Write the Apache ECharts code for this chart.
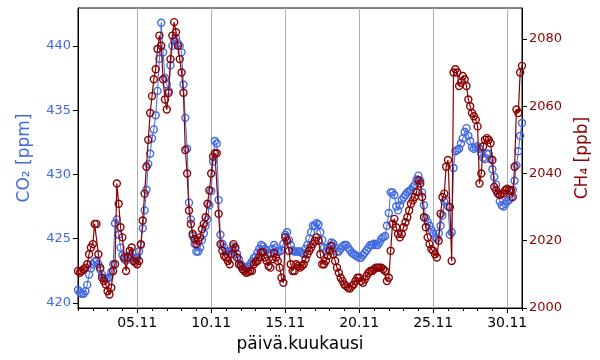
<!DOCTYPE html>
<html>
<head>
<meta charset="utf-8">
<script src="https://cdn.jsdelivr.net/npm/echarts@6/dist/echarts.min.js"></script>
<style>html,body{margin:0;padding:0;background:#fff}#c{width:600px;height:360px}</style>
</head>
<body>
<div id="c"></div>
<script>
// time grid: day of November (1 = 01.11 00:00), 3-hour steps
const startDay = 1;
const stepDay = 0.125;
const co2 = [
421.0,420.8,420.7,420.7,420.9,421.4,422.2,422.7,423.0,423.2,
423.3,423.0,422.6,422.2,421.9,421.9,421.9,422.0,422.4,423.0,
426.2,426.5,425.3,424.3,423.7,423.4,423.3,423.5,423.7,423.6,
423.5,423.5,423.5,424.0,424.5,425.8,427.2,428.8,430.8,431.6,
432.8,433.5,434.6,436.5,439.0,441.8,439.5,437.5,437.0,436.5,
438.5,440.0,440.4,440.6,440.2,440.0,439.5,437.0,434.4,432.0,
427.8,426.5,425.2,424.6,424.0,424.0,424.3,424.9,425.4,426.0,
426.5,427.6,428.7,431.0,432.6,432.4,428.0,425.3,424.6,424.3,
424.0,424.0,423.8,424.1,424.4,424.2,423.8,423.4,423.0,422.8,
422.8,422.7,422.8,423.0,423.2,423.5,423.6,423.9,424.2,424.5,
424.4,424.2,424.1,423.9,423.8,424.2,424.5,424.3,424.0,424.0,
424.1,424.6,425.3,425.5,424.9,424.5,424.1,424.0,424.0,424.0,
424.0,423.9,423.8,424.2,424.5,425.0,425.5,426.0,426.0,426.2,
426.1,425.5,424.9,424.3,424.0,424.3,424.4,424.7,424.6,424.3,
424.0,424.0,424.2,424.4,424.5,424.5,424.3,424.1,423.9,423.8,
423.7,423.6,423.5,423.5,423.7,423.9,424.1,424.3,424.5,424.5,
424.6,424.5,424.5,424.7,425.0,425.1,425.2,426.0,427.0,428.6,
428.6,428.4,427.5,427.2,427.6,428.0,428.2,428.4,428.6,428.7,
428.8,429.0,429.2,429.6,429.9,429.5,428.6,427.6,426.6,426.3,
426.0,425.7,425.4,425.1,425.0,425.4,426.0,426.8,427.9,428.0,
427.5,425.3,425.5,430.5,431.8,431.9,432.0,432.4,432.8,433.3,
433.6,433.0,432.6,432.1,432.0,432.1,432.2,432.0,431.6,431.3,
431.2,431.6,431.6,431.2,430.4,429.8,429.2,428.5,427.9,427.6,
427.5,427.7,427.9,428.0,428.2,428.8,429.5,430.7,431.8,433.0,
434.0];
const ch4 = [
2011,2010.5,2011,2011.5,2012,2013,2016,2018,2019,2025,
2025,2016,2012,2009,2008,2007,2005,2004,2006,2011,
2013,2037,2031,2024,2021,2015,2011,2015,2017,2018,
2014,2013.5,2013,2014,2019,2026,2034,2042,2050,2058,
2063,2068,2071,2077,2081,2078,2068,2062,2059,2064,
2074,2081,2085,2082,2078,2074,2070,2064,2047,2040,
2029,2025,2022,2020.5,2019,2020,2021,2023.5,2025,2027,
2031,2035,2040,2045,2046,2046,2028,2019,2017,2015.5,
2015,2014,2013,2016,2019,2018,2015,2013,2012.5,2011.5,
2011,2010.5,2010.7,2011,2011,2013,2013.7,2014,2015,2016.5,
2016.6,2015,2014,2012.5,2012,2014.5,2016.3,2015,2014,2012,
2009,2007.5,2021,2020,2017,2013,2011,2011,2013,2012.5,
2012,2012.5,2013,2014.5,2016,2017,2018,2019,2020,2021,
2020,2016,2013,2013,2014,2015.5,2017,2018.5,2016,2014,
2012,2010.5,2009,2008,2007,2006.5,2006,2005.8,2006.5,2007,
2008,2009,2009,2008,2007.5,2008.5,2009.5,2010.5,2011,2011,
2011.5,2012,2012,2012,2012,2011.5,2011,2008,2009,2017,
2025,2026.5,2024,2022,2021,2022,2024,2025.5,2027,2029,
2031,2032,2033,2034.5,2038,2037,2033,2027,2024,2021,
2019,2017.5,2017,2016,2015,2020,2028,2033,2034,2042,
2044,2030,2014,2070,2071,2070,2066,2067,2069,2068,
2066,2062,2060,2058,2057,2056,2054,2037,2040,2048,
2050,2050.5,2050,2049,2044,2036,2035,2034,2033.6,2034,
2034,2035,2035.5,2035,2035,2033,2042,2059,2058,2070,
2072];
const xTickDays = [5,10,15,20,25,30];
const xTickLabels = ['05.11','10.11','15.11','20.11','25.11','30.11'];
const co2Ticks = [420,425,430,435,440];
const ch4Ticks = [2000,2020,2040,2060,2080];

const times = co2.map((_, i) => startDay + i * stepDay);
const FONT = 'DejaVu Sans';
const BLUE = '#4169E1';
const RED = '#8B0000';

const chart = echarts.init(document.getElementById('c'), null, {renderer: 'canvas'});
chart.setOption({
  animation: false,
  backgroundColor: '#fff',
  grid: {left: 78, right: 78, top: 8, bottom: 52, show: true, borderColor: '#000', borderWidth: 1, backgroundColor: 'transparent'},
  xAxis: [{
    type: 'value', min: 1, max: 31,
    name: 'päivä.kuukausi', nameLocation: 'middle', nameGap: 28,
    nameTextStyle: {fontFamily: FONT, fontSize: 17, color: '#000'},
    axisLine: {show: true, onZero: false, lineStyle: {color: '#000', width: 1}},
    axisTick: {show: true, customValues: xTickDays, length: 5, lineStyle: {color: '#000'}},
    axisLabel: {customValues: xTickDays, margin: 8, fontFamily: FONT, fontSize: 14, color: '#000',
      formatter: v => xTickLabels[xTickDays.indexOf(Math.round(v))] || ''},
    splitLine: {show: true, lineStyle: {color: '#b0b0b0', width: 1}}
  }, {
    type: 'value', min: 1, max: 31, interval: 1, position: 'bottom',
    axisLine: {show: false, onZero: false},
    axisTick: {show: true, length: 3, lineStyle: {color: '#000'}},
    axisLabel: {show: false},
    splitLine: {show: false}
  }],
  yAxis: [{
    type: 'value', min: 419.6, max: 442.95, position: 'left',
    name: 'CO₂ [ppm]', nameLocation: 'middle', nameGap: 45, nameRotate: 90,
    nameTextStyle: {fontFamily: FONT, fontSize: 17, color: BLUE},
    axisLine: {show: true, onZero: false, lineStyle: {color: '#000', width: 1}},
    axisTick: {show: true, customValues: co2Ticks, length: 5, lineStyle: {color: '#000'}},
    axisLabel: {customValues: co2Ticks, margin: 7, fontFamily: FONT, fontSize: 13, color: BLUE,
      formatter: v => String(v)},
    splitLine: {show: false}
  }, {
    type: 'value', min: 2000, max: 2089.2, position: 'right',
    name: 'CH₄ [ppb]', nameLocation: 'middle', nameGap: 52, nameRotate: 90,
    nameTextStyle: {fontFamily: FONT, fontSize: 17, color: RED},
    axisLine: {show: true, onZero: false, lineStyle: {color: '#000', width: 1}},
    axisTick: {show: true, customValues: ch4Ticks, length: 5, lineStyle: {color: '#000'}},
    axisLabel: {customValues: ch4Ticks, margin: 7, fontFamily: FONT, fontSize: 13, color: RED,
      formatter: v => String(v)},
    splitLine: {show: false}
  }],
  series: [{
    type: 'line', xAxisIndex: 0, yAxisIndex: 0,
    data: times.map((t, i) => [t, co2[i]]),
    symbol: 'circle', symbolSize: 7, showAllSymbol: true,
    lineStyle: {color: BLUE, width: 1},
    itemStyle: {color: 'rgba(0,0,0,0)', borderColor: BLUE, borderWidth: 1.4},
    z: 2
  }, {
    type: 'line', xAxisIndex: 0, yAxisIndex: 1,
    data: times.map((t, i) => [t, ch4[i]]),
    symbol: 'circle', symbolSize: 7, showAllSymbol: true,
    lineStyle: {color: RED, width: 1.2},
    itemStyle: {color: 'rgba(0,0,0,0)', borderColor: RED, borderWidth: 1.4},
    z: 3
  }]
});
</script>
</body>
</html>
